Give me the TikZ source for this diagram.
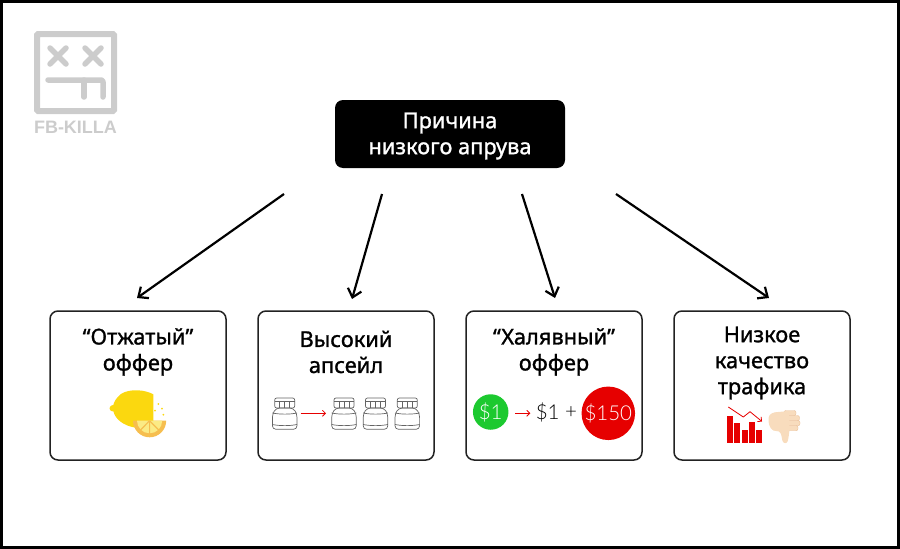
\documentclass[tikz,border=0pt]{standalone}
\usepackage{fontspec}
\setmainfont{Liberation Sans}
\newfontfamily\medfont[FakeBold=1.2]{Noto Sans}
\newfontfamily\lightfont{Lato Light}
\usetikzlibrary{arrows.meta,positioning}
\definecolor{figink}{HTML}{222222}
\definecolor{figlogo}{HTML}{CCCCCC}
\definecolor{figred}{HTML}{E60000}
\definecolor{figgreen}{HTML}{1CC92F}
\definecolor{figlemon}{HTML}{FBD80F}
\definecolor{figpeel}{HTML}{F6BE4F}
\definecolor{figpulp}{HTML}{FBEB85}
\definecolor{figskin}{HTML}{F8DCBD}
\definecolor{figskind}{HTML}{E9BE96}
\tikzset{
  link/.style={-{Straight Barb[length=8pt,width=14pt,line width=2.2pt]}, line width=2.2pt, color=black},
  redlink/.style={-{Straight Barb[length=3pt,width=6pt]}, line width=0.8pt, color=figred},
  causebox/.style={fill=black, text=white, rounded corners=8pt, minimum width=230pt, minimum height=68pt},
  causetext/.style={text=white, align=center, font=\fontsize{21.8}{26}\medfont, inner sep=0pt},
  offerbox/.style={draw=figink, line width=1.5pt, rounded corners=8pt, minimum width=176pt, minimum height=149pt},
  offertext/.style={text=black, align=center, font=\fontsize{21.8}{26}\medfont, inner sep=0pt},
  moneytext/.style={font=\fontsize{20.5}{24}\lightfont, inner sep=0pt},
  logoline/.style={draw=figlogo, line width=5.5pt, line cap=round, line join=round},
  jarline/.style={draw=figink!70!white, line width=0.7pt},
  jar/.pic={
    \draw[jarline, rounded corners=3.5pt] (-12.3,16) -- (-12.3,31.3) -- (12.3,31.3) -- (12.3,16) -- (8.5,10) -- (-8.5,10) -- cycle;
    \draw[jarline] (-12.3,15) .. controls (-5,16.5) and (5,16.5) .. (12.3,15);
    \draw[jarline] (-12.3,26.5) .. controls (-5,28) and (5,28) .. (12.3,26.5);
    \draw[jarline, rounded corners=2pt] (-10,0) rectangle (10,10);
    \draw[jarline] (-10,3.5) -- (10,3.5);
    \foreach \jx in {-5,0,5} \draw[jarline] (\jx,3.5) -- (\jx,10);
  }
}

\begin{document}
\begin{tikzpicture}[x=1pt,y=-1pt]
\useasboundingbox (0,0) rectangle (900,549);
\draw[black, line width=3pt] (1.5,1.5) rectangle (898.5,547.5);

% logo
\draw[logoline, line width=6pt, line cap=butt, line join=miter, rounded corners=1pt] (37,34) rectangle (114,111);
\draw[logoline] (50,48) -- (66,64) (66,48) -- (50,64) (85,48) -- (101,64) (101,48) -- (85,64);
\draw[logoline, rounded corners=2pt] (48,80) -- (103,80) -- (103,97);
\draw[logoline] (84,80) -- (84,97);
\node[text=figlogo, font=\fontsize{18}{18}\bfseries, inner sep=0pt] (logotext) at (75.5,127.5) {FB-KILLA};

\node[causebox] (cause) at (450,134) {};
\node[causetext] (causetext) at (450,136) {Причина\\низкого апрува};

\node[offerbox] (offerA) at (138,385.5) {};
\node[offerbox] (offerB) at (346,385.5) {};
\node[offerbox] (offerC) at (554,385.5) {};
\node[offerbox] (offerD) at (762,385.5) {};

\node[offertext] (textA) at (138,352) {“Отжатый”\\оффер};
\node[offertext] (textB) at (346,352) {Высокий\\апсейл};
\node[offertext] (textC) at (554,352) {“Халявный”\\оффер};
\node[offertext] (textD) at (762,363) {Низкое\\качество\\трафика};

\coordinate (fromA) at (284,194);
\coordinate (toA) at (137,298);
\coordinate (fromB) at (382,194);
\coordinate (toB) at (352,299);
\coordinate (fromC) at (522,194);
\coordinate (toC) at (555,298);
\coordinate (fromD) at (616,194);
\coordinate (toD) at (769,298);
\draw[link] (fromA) -- (toA);
\draw[link] (fromB) -- (toB);
\draw[link] (fromC) -- (toC);
\draw[link] (fromD) -- (toD);

% lemon
\fill[figlemon] (153.3,394.3) .. controls (146,390) and (130,388) .. (121,394) .. controls (116,398) and (114,402) .. (113.3,405) -- (111.5,405.5) .. controls (109,406.5) and (109,410.5) .. (111.5,411) -- (113.5,411.5) .. controls (115,419) and (124,426) .. (135,427.5) -- (153.3,422) -- cycle;
\fill[figpeel] (133,420.7) arc[start angle=180, end angle=360, x radius=16.6, y radius=-16.6] -- cycle;
\fill[figpulp] (137,420.7) arc[start angle=180, end angle=360, x radius=12.6, y radius=-12.6] -- cycle;
\draw[figpeel, line width=1.2pt] (149.6,420.7) -- (149.6,434) (149.6,420.7) -- (140.5,430) (149.6,420.7) -- (158.7,430);
\foreach \dx/\dy in {158.3/404,162/408.7,155/410.7,163.3/414.7}
  \fill[figlemon] (\dx,\dy) circle[radius=1];

% jars
\pic at (284.7,398) {jar};
\pic at (344,398) {jar};
\pic at (375.5,398) {jar};
\pic at (407.3,398) {jar};
\coordinate (jarfrom) at (300.7,413.3);
\coordinate (jarto) at (326,413.3);
\draw[redlink] (jarfrom) -- (jarto);

% money
\node[circle, fill=figgreen, text=white, minimum size=35.5pt, inner sep=0pt, font=\fontsize{20.5}{24}\lightfont] (coinA) at (490.7,412) {\$1};
\node[moneytext, text=black] (coinB) at (547.7,412.5) {\$1};
\node[moneytext, text=black] (plusC) at (571,413) {+};
\node[circle, fill=figred, text=white, minimum size=53.5pt, inner sep=0pt, font=\fontsize{20.5}{24}\lightfont] (coinD) at (608.3,413.3) {\$150};
\coordinate (coinfrom) at (515,413.3);
\coordinate (cointo) at (530.3,413.3);
\draw[redlink] (coinfrom) -- (cointo);

% falling chart
\foreach \bx/\btop in {727.3/416,734.3/423,741.7/429.7,748.7/421.7,756/429.7}
  \fill[figred] (\bx,\btop) rectangle ++(6,443.3-\btop);
\coordinate (chartend) at (762,421.5);
\draw[redlink] (728.3,407) -- (743.3,417) -- (750,411.7) -- (chartend);

% thumb
\foreach \fy/\fx in {410.5/796,415.5/799.5,420.5/800,425.5/798}
  \fill[figskin, draw=figskind, line width=0.4pt, rounded corners=2pt] (784,\fy) rectangle (\fx,\fy+5.2);
\fill[figskin] (768.5,418) .. controls (769,414) and (773,412) .. (778,412) -- (789,411) -- (789.5,430) .. controls (789,434) and (788.5,438) .. (787.8,441) .. controls (787,443.8) and (783.5,443.8) .. (782.5,441) .. controls (781.5,437) and (781.5,433) .. (779,431.5) -- (773.3,430.5) .. controls (769.5,428) and (768.3,424) .. (768.5,418) -- cycle;
\end{tikzpicture}
\end{document}
